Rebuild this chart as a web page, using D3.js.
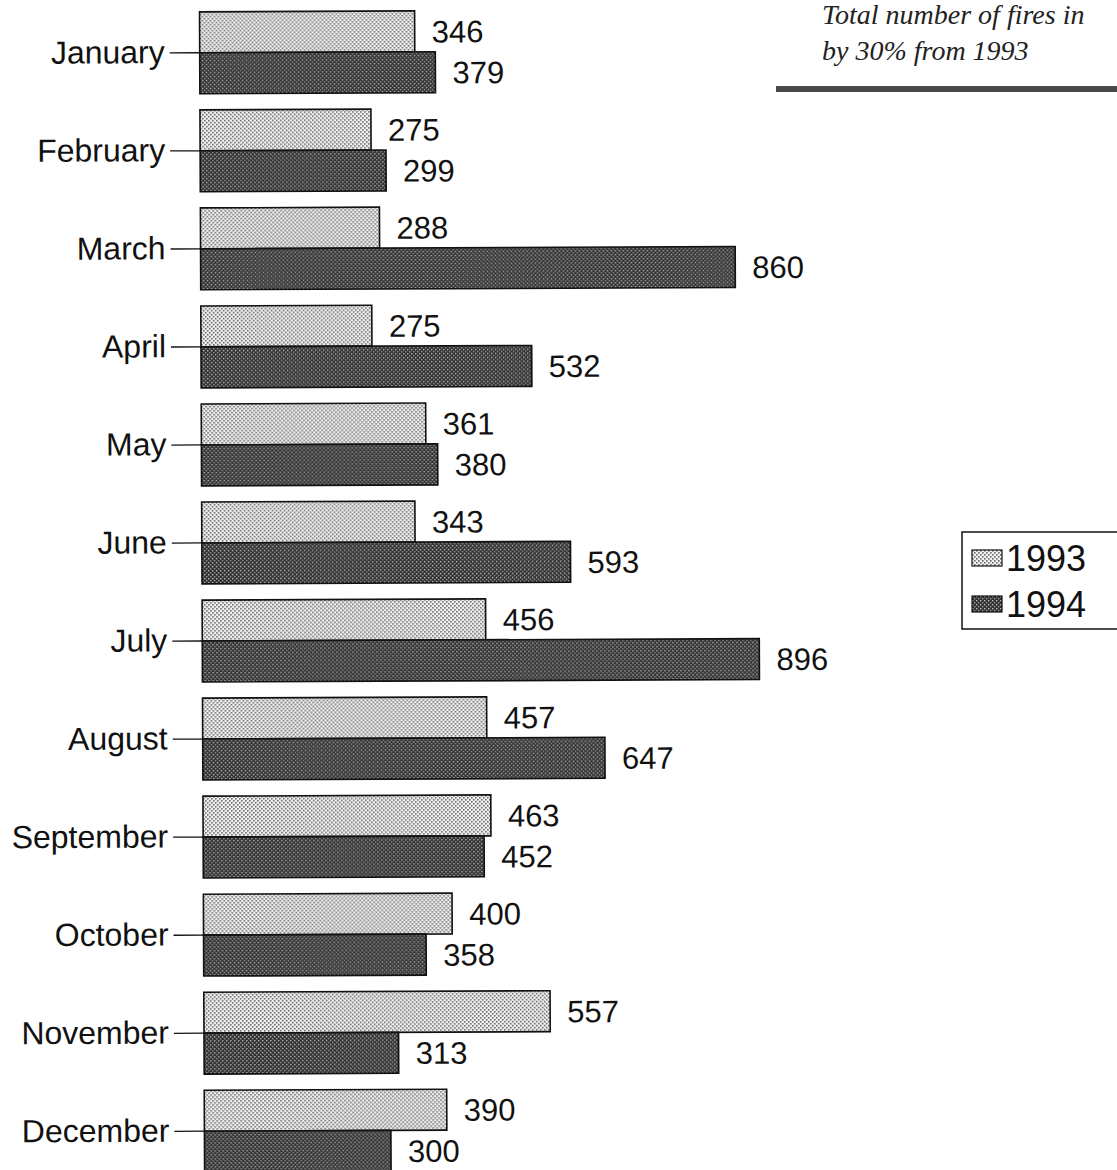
<!DOCTYPE html>
<html>
<head>
<meta charset="utf-8">
<script src="https://cdn.jsdelivr.net/npm/d3@7"></script>
<style>
  body { margin: 0; background: #fff; }
  svg { display: block; }
</style>
</head>
<body>
<svg id="chart"></svg>
<script>
const months = ["January", "February", "March", "April", "May", "June",
  "July", "August", "September", "October", "November", "December"];
const seriesNames = ["1993", "1994"];
const fires1993 = [346, 275, 288, 275, 361, 343, 456, 457, 463, 400, 557, 390];
const fires1994 = [379, 299, 860, 532, 380, 593, 896, 647, 452, 358, 313, 300];
const noteLines = ["Total number of fires in", "by 30% from 1993"];

const width = 1117;
const height = 1170;

const svg = d3.select("#chart")
  .attr("width", width)
  .attr("height", height);

const defs = svg.append("defs");

// stippled fills like the printed original
const light = defs.append("pattern")
  .attr("id", "light")
  .attr("patternUnits", "userSpaceOnUse")
  .attr("width", 4)
  .attr("height", 4);
light.append("rect").attr("width", 4).attr("height", 4).attr("fill", "#f2f2f2");
light.append("rect").attr("x", 0).attr("y", 0).attr("width", 1.6).attr("height", 1.6).attr("fill", "#666");
light.append("rect").attr("x", 2).attr("y", 2).attr("width", 1.6).attr("height", 1.6).attr("fill", "#666");

const dark = defs.append("pattern")
  .attr("id", "dark")
  .attr("patternUnits", "userSpaceOnUse")
  .attr("width", 4)
  .attr("height", 4);
dark.append("rect").attr("width", 4).attr("height", 4).attr("fill", "#333");
dark.append("rect").attr("x", 0).attr("y", 0).attr("width", 1.4).attr("height", 1.4).attr("fill", "#bbb");
dark.append("rect").attr("x", 2).attr("y", 2).attr("width", 1.4).attr("height", 1.4).attr("fill", "#999");

const fills = { "1993": "url(#light)", "1994": "url(#dark)" };

const rows = months.map((m, i) => ({ month: m, values: [fires1993[i], fires1994[i]] }));

const x0 = 202;
const x = d3.scaleLinear().domain([0, 896]).range([x0, x0 + 557]);

const y = d3.scaleBand()
  .domain(months)
  .range([4, 1180])
  .paddingInner(0.165)
  .paddingOuter(0.08);

const ySub = d3.scaleBand()
  .domain(seriesNames)
  .range([0, y.bandwidth()]);

// whole plot is tilted a hair, as in the scan
const plot = svg.append("g")
  .attr("transform", "rotate(-0.25, 200, 580)");

const groups = plot.selectAll("g.month")
  .data(rows)
  .enter()
  .append("g")
  .attr("class", "month")
  .attr("transform", d => `translate(0, ${y(d.month)})`);

groups.selectAll("rect")
  .data(d => d.values.map((v, i) => ({ key: seriesNames[i], value: v })))
  .enter()
  .append("rect")
  .attr("x", x(0))
  .attr("y", d => ySub(d.key))
  .attr("width", d => x(d.value) - x(0))
  .attr("height", ySub.bandwidth())
  .attr("fill", d => fills[d.key])
  .attr("stroke", "#111")
  .attr("stroke-width", 1.6);

groups.selectAll("text.value")
  .data(d => d.values.map((v, i) => ({ key: seriesNames[i], value: v })))
  .enter()
  .append("text")
  .attr("class", "value")
  .attr("x", d => x(d.value) + 17)
  .attr("y", d => ySub(d.key) + ySub.bandwidth() / 2)
  .attr("dy", "0.36em")
  .style("font-family", "'Liberation Sans', Arial, sans-serif")
  .style("font-size", "31px")
  .style("fill", "#111")
  .text(d => d.value);

const yAxis = d3.axisLeft(y)
  .tickSize(30)
  .tickPadding(5);

const axisG = plot.append("g")
  .attr("transform", `translate(${x0}, 0)`)
  .call(yAxis);

axisG.select(".domain").remove();
axisG.selectAll(".tick line").attr("stroke", "#111").attr("stroke-width", 1.3);
axisG.selectAll(".tick text")
  .style("font-family", "'Liberation Sans', Arial, sans-serif")
  .style("font-size", "32px")
  .attr("fill", "#111");

// note at top right
const note = svg.append("g");
note.selectAll("text")
  .data(noteLines)
  .enter()
  .append("text")
  .attr("x", 822)
  .attr("y", (d, i) => 24 + i * 36)
  .style("font-family", "'Liberation Serif', 'Times New Roman', serif")
  .style("font-style", "italic")
  .style("font-size", "28px")
  .style("fill", "#222")
  .text(d => d);

note.append("rect")
  .attr("x", 776)
  .attr("y", 86)
  .attr("width", width - 776)
  .attr("height", 6)
  .attr("fill", "#4a4a4a");

// legend
const legend = svg.append("g")
  .attr("transform", "translate(962, 532)");

legend.append("rect")
  .attr("width", 170)
  .attr("height", 97)
  .attr("fill", "#fff")
  .attr("stroke", "#111")
  .attr("stroke-width", 1.5);

const legendItems = legend.selectAll("g.legend-item")
  .data(seriesNames)
  .enter()
  .append("g")
  .attr("class", "legend-item")
  .attr("transform", (d, i) => `translate(10, ${26 + i * 46})`);

legendItems.append("rect")
  .attr("x", 0)
  .attr("y", -8)
  .attr("width", 30)
  .attr("height", 16)
  .attr("fill", d => fills[d])
  .attr("stroke", "#111")
  .attr("stroke-width", 1.2);

legendItems.append("text")
  .attr("x", 34)
  .attr("y", 0)
  .attr("dy", "0.36em")
  .style("font-family", "'Liberation Sans', Arial, sans-serif")
  .style("font-size", "36px")
  .style("fill", "#111")
  .text(d => d);
</script>
</body>
</html>
